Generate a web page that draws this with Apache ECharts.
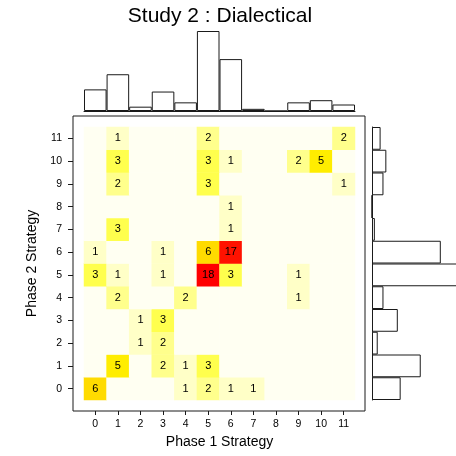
<!DOCTYPE html>
<html>
<head>
<meta charset="utf-8">
<script src="https://cdn.jsdelivr.net/npm/echarts@6/dist/echarts.min.js"></script>
<style>
  html, body { margin: 0; padding: 0; background: #fff; }
  #chart { width: 456px; height: 456px; }
</style>
</head>
<body>
<div id="chart"></div>
<script>
// Strategy codes on both axes
const phase1Labels = ['0', '1', '2', '3', '4', '5', '6', '7', '8', '9', '10', '11'];
const phase2Labels = ['0', '1', '2', '3', '4', '5', '6', '7', '8', '9', '10', '11'];

// counts[phase2][phase1]: number of participants per strategy pair
const counts = [
  [6, 0, 0, 0, 1, 2, 1, 1, 0, 0, 0, 0],   // phase 2 = 0
  [0, 5, 0, 2, 1, 3, 0, 0, 0, 0, 0, 0],   // 1
  [0, 0, 1, 2, 0, 0, 0, 0, 0, 0, 0, 0],   // 2
  [0, 0, 1, 3, 0, 0, 0, 0, 0, 0, 0, 0],   // 3
  [0, 2, 0, 0, 2, 0, 0, 0, 0, 1, 0, 0],   // 4
  [3, 1, 0, 1, 0, 18, 3, 0, 0, 1, 0, 0],  // 5
  [1, 0, 0, 1, 0, 6, 17, 0, 0, 0, 0, 0],  // 6
  [0, 3, 0, 0, 0, 0, 1, 0, 0, 0, 0, 0],   // 7
  [0, 0, 0, 0, 0, 0, 1, 0, 0, 0, 0, 0],   // 8
  [0, 2, 0, 0, 0, 3, 0, 0, 0, 0, 0, 1],   // 9
  [0, 3, 0, 0, 0, 3, 1, 0, 0, 2, 5, 0],   // 10
  [0, 1, 0, 0, 0, 2, 0, 0, 0, 0, 0, 2]    // 11
];

// Marginal bar heights
const topMargin  = [10, 17, 2, 9, 4, 37, 24, 1, 0, 4, 5, 3];
const sideMargin = [10, 17, 2, 9, 4, 37, 24, 1, 0, 4, 5, 3];

// ---- heat palette: pale cream -> yellow -> orange -> red ----
function hsv(h, s, v) {
  const f = (n) => {
    const k = (n + h / 60) % 6;
    return v - v * s * Math.max(0, Math.min(k, 4 - k, 1));
  };
  const to = (x) => Math.round(x * 255).toString(16).padStart(2, '0');
  return '#' + to(f(5)) + to(f(3)) + to(f(1));
}
const maxCount = 18;
const paleSat = [0.05, 0.22, 0.45, 0.7, 0.9];
const heatPalette = [];
for (let v = 0; v <= maxCount; v++) {
  if (v < paleSat.length) heatPalette.push(hsv(60, paleSat[v], 1));
  else heatPalette.push(hsv(60 * (maxCount - v) / 14, 1, 1));
}

const heatData = [];
counts.forEach((row, yi) => row.forEach((c, xi) => heatData.push([xi, yi, c])));

const FONT = '"Liberation Sans", Arial, Helvetica, sans-serif';
const INK = '#000';
const EDGE = '#1a1a1a';

const chart = echarts.init(document.getElementById('chart'), null, { renderer: 'canvas' });
chart.setOption({
  animation: false,
  backgroundColor: '#fff',
  textStyle: { fontFamily: FONT, color: INK },
  graphic: [{
    type: 'text',
    x: 220, y: 16,
    style: {
      text: 'Study 2 : Dialectical',
      fontSize: 21, fontFamily: FONT, fill: INK,
      align: 'center', verticalAlign: 'middle'
    }
  }],
  grid: [
    { left: 84, top: 127, width: 271, height: 273 },                 // cells
    { left: 73, top: 116, width: 292, height: 295, show: true,
      borderColor: EDGE, borderWidth: 1, backgroundColor: 'transparent' }, // plot frame
    { left: 84, top: 31, width: 271, height: 80 },                   // top margin bars
    { left: 372, top: 127, right: 0, height: 273 }                   // side margin bars (run past the edge)
  ],
  xAxis: [
    {
      gridIndex: 0, type: 'category', data: phase1Labels, position: 'bottom', offset: 11,
      axisLine: { show: false },
      axisTick: { show: true, alignWithLabel: true, length: 4, lineStyle: { color: EDGE } },
      axisLabel: { margin: 8, fontSize: 10.5, color: INK, fontFamily: FONT },
      splitLine: { show: false },
      name: 'Phase 1 Strategy', nameLocation: 'middle', nameGap: 19,
      nameTextStyle: { fontSize: 14, color: INK, fontFamily: FONT }
    },
    { gridIndex: 1, type: 'value', show: false },
    {
      gridIndex: 2, type: 'category', data: phase1Labels,
      axisLine: { show: true, lineStyle: { color: EDGE } },
      axisTick: { show: false }, axisLabel: { show: false }, splitLine: { show: false }
    },
    // 84 px of room at ~2.87 px per participant
    { gridIndex: 3, type: 'value', min: 0, max: 29.3, show: false }
  ],
  yAxis: [
    {
      gridIndex: 0, type: 'category', data: phase2Labels, position: 'left', offset: 11,
      axisLine: { show: false },
      axisTick: { show: true, alignWithLabel: true, length: 5, lineStyle: { color: EDGE } },
      axisLabel: { margin: 11, fontSize: 10.5, color: INK, fontFamily: FONT },
      splitLine: { show: false },
      name: 'Phase 2 Strategy', nameLocation: 'middle', nameGap: 27.5, nameRotate: 90,
      nameTextStyle: { fontSize: 14, color: INK, fontFamily: FONT }
    },
    { gridIndex: 1, type: 'value', show: false },
    { gridIndex: 2, type: 'value', min: 0, max: 37, show: false },
    {
      gridIndex: 3, type: 'category', data: phase2Labels,
      axisLine: { show: true, lineStyle: { color: EDGE } },
      axisTick: { show: false }, axisLabel: { show: false }, splitLine: { show: false }
    }
  ],
  visualMap: {
    show: false, type: 'continuous', seriesIndex: 0,
    min: 0, max: maxCount, dimension: 2,
    inRange: { color: heatPalette }
  },
  series: [
    {
      type: 'heatmap', xAxisIndex: 0, yAxisIndex: 0, data: heatData,
      silent: true,
      label: {
        show: true, fontSize: 11, color: INK, fontFamily: FONT,
        formatter: (p) => (p.value[2] > 0 ? String(p.value[2]) : '')
      },
      emphasis: { disabled: true }
    },
    {
      type: 'bar', xAxisIndex: 2, yAxisIndex: 2, data: topMargin,
      barCategoryGap: '0%', silent: true,
      itemStyle: { color: '#fff', borderColor: EDGE, borderWidth: 1 }
    },
    {
      type: 'bar', xAxisIndex: 3, yAxisIndex: 3, data: sideMargin,
      barCategoryGap: '0%', silent: true, clip: false,
      itemStyle: { color: '#fff', borderColor: EDGE, borderWidth: 1 }
    }
  ]
});
</script>
</body>
</html>
